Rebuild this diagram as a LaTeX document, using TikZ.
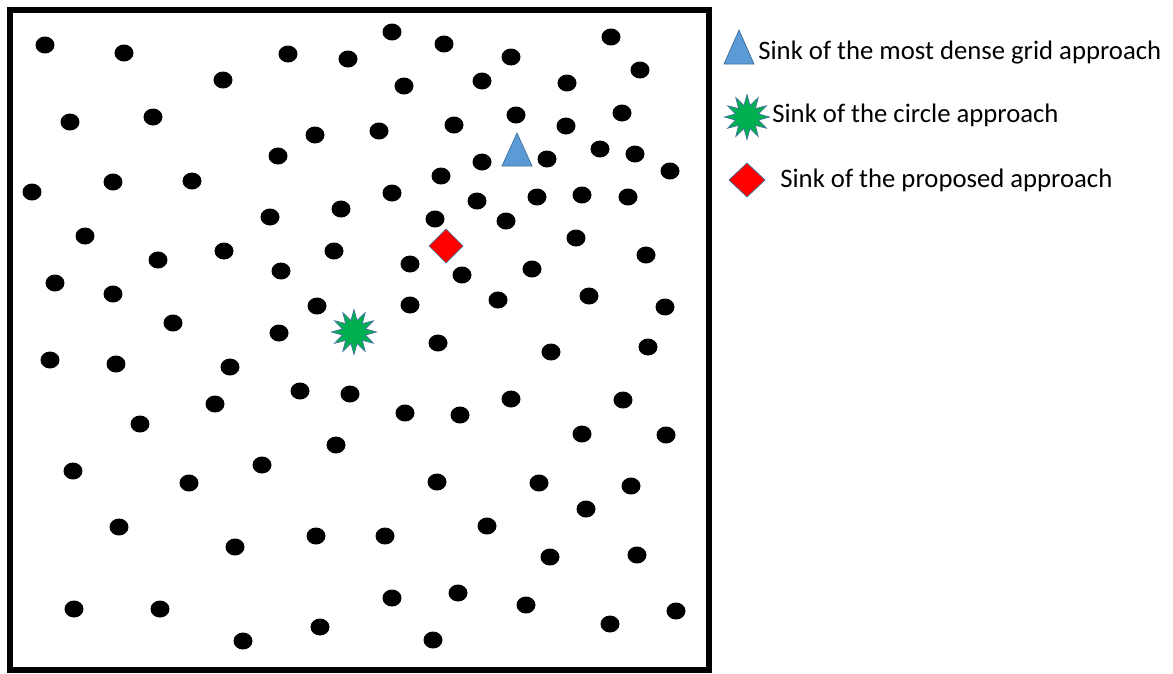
\documentclass[tikz,border=0pt]{standalone}
\usepackage{fontspec}
\setmainfont{Carlito}
\usepackage{xcolor}
\usetikzlibrary{shapes.geometric,positioning}

\definecolor{gridblue}{RGB}{91,155,213}
\definecolor{gridedge}{RGB}{65,113,156}
\definecolor{circgreen}{RGB}{0,176,80}

\begin{document}
\begin{tikzpicture}[x=0.02cm,y=-0.02cm,font=\fontsize{15.2}{17}\selectfont,
  sensor/.style={fill=black},
  sinktri/.style={fill=gridblue,draw=gridedge,line width=0.4pt},
  sinkstar/.style={star,star points=12,star point ratio=1.9,minimum size=0.9cm,inner sep=0pt,
    fill=circgreen,draw=gridedge,line width=0.4pt},
  sinkdia/.style={fill=red,draw=gridedge,line width=0.4pt},
  legtext/.style={anchor=base west,inner sep=0pt}]
  \useasboundingbox (0,0) rectangle (1173,673);
  % field
  \draw[line width=0.12cm] (10,10) rectangle (709,670);
  \foreach \x/\y in {45/45,124/53,223/80,70/122,153/117,32/192,113/182,192/181,85/236,
    288/54,348/59,392/32,444/44,404/86,482/81,315/135,379/131,454/125,278/156,441/176,
    392/193,482/162,477/201,270/217,341/209,435/219,611/37,511/57,567/83,640/70,
    516/115,566/126,622/113,547/159,600/149,635/154,670/171,537/197,582/195,628/197,
    506/221,158/260,224/251,55/283,113/294,173/323,50/360,116/364,230/367,215/404,
    140/424,334/251,281/271,410/264,462/275,317/306,410/305,279/333,438/343,300/391,
    350/394,405/413,460/415,336/445,576/238,646/255,532/269,498/300,589/296,665/307,
    551/352,648/347,511/399,623/400,582/434,666/435,73/471,189/483,119/527,235/547,
    74/609,160/609,243/641,262/465,437/482,316/536,385/536,392/598,458/593,320/627,
    433/640,539/483,631/486,586/509,487/526,550/557,637/555,526/605,610/624,676/611}
    \fill[sensor] (\x,\y) ellipse [x radius=0.19cm,y radius=0.17cm];
  % sinks
  \draw[sinktri] (517,133) -- (532,166) -- (502,166) -- cycle;
  \node[sinkstar] (starsink) at (354,332) {};
  \draw[sinkdia] (446,229) -- (463,246) -- (446,263) -- (429,246) -- cycle;
  % legend
  \draw[sinktri] (739,30) -- (754,64) -- (724,64) -- cycle;
  \node[legtext] (leggrid) at (758,59) {Sink of the most dense grid approach};
  \node[sinkstar] (legstar) at (747,117) {};
  \node[legtext] (legcircle) at (772,122) {Sink of the circle approach};
  \draw[sinkdia] (747,163) -- (765,180) -- (747,197) -- (729,180) -- cycle;
  \node[legtext] (legprop) at (780,187) {Sink of the proposed approach};
\end{tikzpicture}
\end{document}
